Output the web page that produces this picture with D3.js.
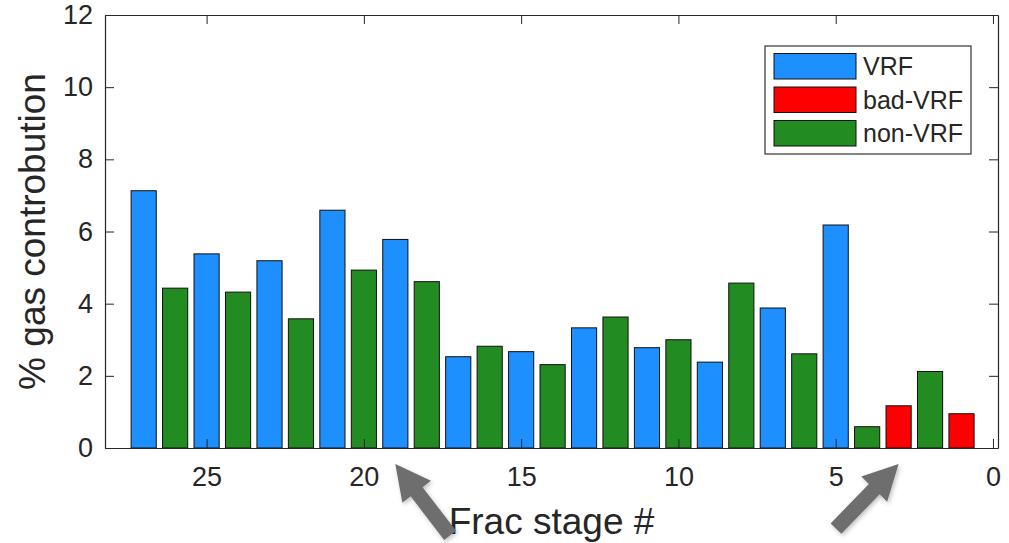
<!DOCTYPE html>
<html>
<head>
<meta charset="utf-8">
<script src="https://cdn.jsdelivr.net/npm/d3@7"></script>
<style>
  body { margin: 0; background: #fff; }
  text { font-family: "Liberation Sans", Arial, Helvetica, sans-serif; }
</style>
</head>
<body>
<svg id="chart" width="1009" height="543"></svg>
<script>
// Frac stages (plotted right-to-left) and their gas contribution in percent
const stages = [27, 26, 25, 24, 23, 22, 21, 20, 19, 18, 17, 16, 15, 14,
                13, 12, 11, 10, 9, 8, 7, 6, 5, 4, 3, 2, 1];
const gasPct = [7.13, 4.43, 5.38, 4.32, 5.19, 3.58, 6.59, 4.93, 5.78, 4.61,
                2.53, 2.82, 2.67, 2.31, 3.33, 3.63, 2.78, 3.00, 2.38, 4.57,
                3.88, 2.61, 6.18, 0.59, 1.17, 2.12, 0.95];
const stageClass = ["VRF", "non-VRF", "VRF", "non-VRF", "VRF", "non-VRF", "VRF",
                    "non-VRF", "VRF", "non-VRF", "VRF", "non-VRF", "VRF", "non-VRF",
                    "VRF", "non-VRF", "VRF", "non-VRF", "VRF", "non-VRF", "VRF",
                    "non-VRF", "VRF", "non-VRF", "bad-VRF", "non-VRF", "bad-VRF"];

const categories = ["VRF", "bad-VRF", "non-VRF"];
const categoryColors = ["#1e8fff", "#ff0000", "#228b22"];

const xTickValues = [25, 20, 15, 10, 5, 0];
const yTickValues = [0, 2, 4, 6, 8, 10, 12];

// Stages highlighted with call-out arrows
const arrowStages = [19, 3];

// ---- layout ----
const svg = d3.select("#chart");
const plot = { left: 105, right: 998, top: 15, bottom: 448 };
const ink = "#262626";

const x = d3.scaleLinear().domain([28.23, -0.16]).range([plot.left, plot.right]);
const y = d3.scaleLinear().domain([0, 12]).range([plot.bottom, plot.top]);
const color = d3.scaleOrdinal().domain(categories).range(categoryColors);
const barWidth = 0.8; // in stage units

const data = stages.map((s, i) => ({ stage: s, value: gasPct[i], cls: stageClass[i] }));

// ---- bars ----
svg.append("g")
  .selectAll("rect")
  .data(data)
  .join("rect")
    .attr("x", d => x(d.stage + barWidth / 2))
    .attr("width", d => x(d.stage - barWidth / 2) - x(d.stage + barWidth / 2))
    .attr("y", d => y(d.value))
    .attr("height", d => y(0) - y(d.value))
    .attr("fill", d => color(d.cls))
    .attr("stroke", "#111")
    .attr("stroke-width", 1);

// ---- axes (box with inward ticks on all sides) ----
function styleAxis(g) {
  g.selectAll("path.domain").attr("stroke", ink);
  g.selectAll(".tick line").attr("stroke", ink);
  g.selectAll(".tick text").attr("fill", ink).style("font-size", "27px");
}

svg.append("g")
  .attr("transform", `translate(0,${plot.bottom})`)
  .call(d3.axisBottom(x).tickValues(xTickValues).tickSizeInner(-9).tickSizeOuter(0).tickPadding(19))
  .call(styleAxis);

svg.append("g")
  .attr("transform", `translate(0,${plot.top})`)
  .call(d3.axisTop(x).tickValues(xTickValues).tickSizeInner(-9).tickSizeOuter(0).tickFormat(""))
  .call(styleAxis);

svg.append("g")
  .attr("transform", `translate(${plot.left},0)`)
  .call(d3.axisLeft(y).tickValues(yTickValues).tickSizeInner(-9).tickSizeOuter(0).tickPadding(12))
  .call(styleAxis);

svg.append("g")
  .attr("transform", `translate(${plot.right},0)`)
  .call(d3.axisRight(y).tickValues(yTickValues).tickSizeInner(-9).tickSizeOuter(0).tickFormat(""))
  .call(styleAxis);

svg.selectAll(".domain").attr("stroke-width", 1.2);

// ---- axis titles ----
svg.append("text")
  .attr("x", (plot.left + plot.right) / 2)
  .attr("y", 534)
  .attr("text-anchor", "middle")
  .attr("fill", ink)
  .style("font-size", "37px")
  .text("Frac stage #");

svg.append("text")
  .attr("transform", `translate(45,${(plot.top + plot.bottom) / 2}) rotate(-90)`)
  .attr("text-anchor", "middle")
  .attr("fill", ink)
  .style("font-size", "37px")
  .text("% gas controbution");

// ---- legend ----
const legend = svg.append("g").attr("transform", "translate(765,46)");
legend.append("rect")
  .attr("width", 206).attr("height", 108)
  .attr("fill", "#fff").attr("stroke", "#333").attr("stroke-width", 1.2);
const rowStep = 33.5;
categories.forEach((c, i) => {
  const row = legend.append("g").attr("transform", `translate(9,${7.5 + i * rowStep})`);
  row.append("rect")
    .attr("width", 82).attr("height", 25.5)
    .attr("fill", color(c)).attr("stroke", "#111").attr("stroke-width", 1);
  row.append("text")
    .attr("x", 89).attr("y", 12.75).attr("dy", "0.36em")
    .attr("fill", ink)
    .style("font-size", "25px")
    .text(c);
});

// ---- call-out arrows below the stage axis ----
const defs = svg.append("defs");
const shadow = defs.append("filter").attr("id", "arrowShadow")
  .attr("x", "-30%").attr("y", "-30%").attr("width", "160%").attr("height", "160%");
shadow.append("feDropShadow")
  .attr("dx", 1.5).attr("dy", 2).attr("stdDeviation", 2)
  .attr("flood-color", "#000").attr("flood-opacity", 0.25);

// direction from tip towards tail for each arrow
const arrowDirs = [[56, 73], [-62, 64]];
const arrowLen = 90, headLen = 35, headHalf = 18, shaftHalf = 7.5;

arrowStages.forEach((s, i) => {
  const tip = [x(s), plot.bottom + 16];
  const [dx, dy] = arrowDirs[i];
  const m = Math.hypot(dx, dy);
  const u = [dx / m, dy / m];
  const n = [-u[1], u[0]];
  const pt = (a, b) => [tip[0] + u[0] * a + n[0] * b, tip[1] + u[1] * a + n[1] * b];
  const pts = [
    pt(0, 0), pt(headLen, headHalf), pt(headLen, shaftHalf), pt(arrowLen, shaftHalf),
    pt(arrowLen, -shaftHalf), pt(headLen, -shaftHalf), pt(headLen, -headHalf)
  ];
  svg.append("path")
    .attr("d", d3.line()(pts) + "Z")
    .attr("fill", "#6e6e6e")
    .attr("filter", "url(#arrowShadow)");
});
</script>
</body>
</html>
